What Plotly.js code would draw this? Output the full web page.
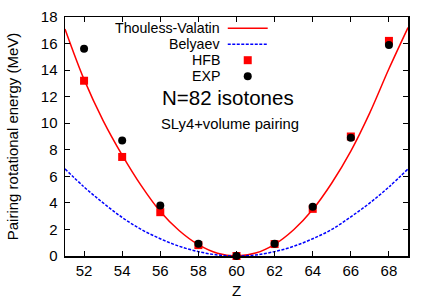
<!DOCTYPE html>
<html><head><meta charset="utf-8">
<script src="https://cdn.plot.ly/plotly-3.0.1.min.js"></script>
<style>html,body{margin:0;padding:0;background:#fff}</style>
</head><body><div id="chart" style="width:436px;height:305px"></div>
<script>
// Data
const zCurve = [51,52,53,54,55,56,57,58,59,60,61,62,63,64,65,66,67,68,69];
const thoulessValatin = [17.1,13.3,10.2,7.6,5.3,3.35,1.9,0.85,0.2,0,0.22,0.88,1.98,3.5,5.5,7.9,10.8,14.1,17.2];
const belyaev = [6.56,5.2,4.0,2.9,2.0,1.3,0.73,0.33,0.08,0,0.08,0.33,0.73,1.3,2.0,2.95,4.0,5.2,6.56];
const zPoints = [52,54,56,58,60,62,64,66,68];
const hfb = [13.2,7.46,3.3,0.82,0,0.9,3.55,9.0,16.2];
const exp = [15.6,8.7,3.8,0.92,0,0.93,3.7,8.9,15.9];
const xTicks = [52,54,56,58,60,62,64,66,68];
const yTicks = [0,2,4,6,8,10,12,14,16,18];

const W=436,H=305, L=65, R=408.5, T=17.3, B=256.3;
const px = x => (x-L)/(R-L);
const py = y => (B-y)/(B-T);
const font = 'Liberation Sans, Arial, Helvetica, sans-serif';

const traces = [
  {x:zCurve, y:thoulessValatin, mode:'lines', line:{color:'#ff0000', width:1.5, shape:'spline'}, name:'Thouless-Valatin'},
  {x:zCurve, y:belyaev, mode:'lines', line:{color:'#0000ff', width:1.5, dash:'3px,1.5px', shape:'spline'}, name:'Belyaev'},
  {x:zPoints, y:hfb, mode:'markers', marker:{symbol:'square', color:'#ff0000', size:8}, name:'HFB', cliponaxis:false},
  {x:zPoints, y:exp, mode:'markers', marker:{symbol:'circle', color:'#000000', size:8}, name:'EXP', cliponaxis:false}
];

const rowsY = [28.5, 44.5, 60.5, 76.5];
const legendNames = ['Thouless-Valatin','Belyaev','HFB','EXP'];
const annotations = legendNames.map((t,i) => ({
  xref:'paper', yref:'paper', x:px(221), y:py(rowsY[i]), xanchor:'right', yanchor:'middle',
  text:t, showarrow:false, borderpad:0, font:{family:font, size:14.2, color:'#000'}
}));
annotations.push({xref:'paper', yref:'paper', x:px(228), y:py(98), xanchor:'center', yanchor:'middle',
  text:'N=82 isotones', showarrow:false, borderpad:0, font:{family:font, size:20.5, color:'#000'}});
annotations.push({xref:'paper', yref:'paper', x:px(230.5), y:py(124), xanchor:'center', yanchor:'middle',
  text:'SLy4+volume pairing', showarrow:false, borderpad:0, font:{family:font, size:14.8, color:'#000'}});

const shapes = [
  {type:'line', xref:'paper', yref:'paper', x0:px(228), x1:px(268), y0:py(rowsY[0]), y1:py(rowsY[0]), line:{color:'#ff0000', width:1.5}},
  {type:'line', xref:'paper', yref:'paper', x0:px(228), x1:px(268), y0:py(rowsY[1]), y1:py(rowsY[1]), line:{color:'#0000ff', width:1.5, dash:'3px,1.5px'}},
  {type:'rect', xref:'paper', yref:'paper', x0:px(244), x1:px(252), y0:py(rowsY[2]+4), y1:py(rowsY[2]-4), fillcolor:'#ff0000', line:{width:0}},
  {type:'circle', xref:'paper', yref:'paper', x0:px(244), x1:px(252), y0:py(rowsY[3]+4), y1:py(rowsY[3]-4), fillcolor:'#000000', line:{width:0}}
];

const axisCommon = {
  showgrid:false, zeroline:false, showline:true, linecolor:'#000', linewidth:1.5, mirror:'allticks',
  ticks:'inside', ticklen:5, tickwidth:1, tickcolor:'#000',
  tickfont:{family:font, size:15, color:'#000'}
};

const layout = {
  width:W, height:H,
  margin:{l:L, r:W-R, t:T, b:H-B},
  paper_bgcolor:'#fff', plot_bgcolor:'#fff',
  showlegend:false,
  xaxis:Object.assign({}, axisCommon, {range:[51,69], tickvals:xTicks, ticktext:xTicks.map(String),
    title:{text:'Z', font:{family:font, size:15, color:'#000'}, standoff:8}}),
  yaxis:Object.assign({}, axisCommon, {range:[0,18], tickvals:yTicks, ticktext:yTicks.map(String), ticklabelstandoff:3,
    title:{text:'Pairing rotational energy (MeV)', font:{family:font, size:15, color:'#000'}, standoff:18}}),
  annotations, shapes
};
Plotly.newPlot('chart', traces, layout, {staticPlot:true, displayModeBar:false});
</script></body></html>
